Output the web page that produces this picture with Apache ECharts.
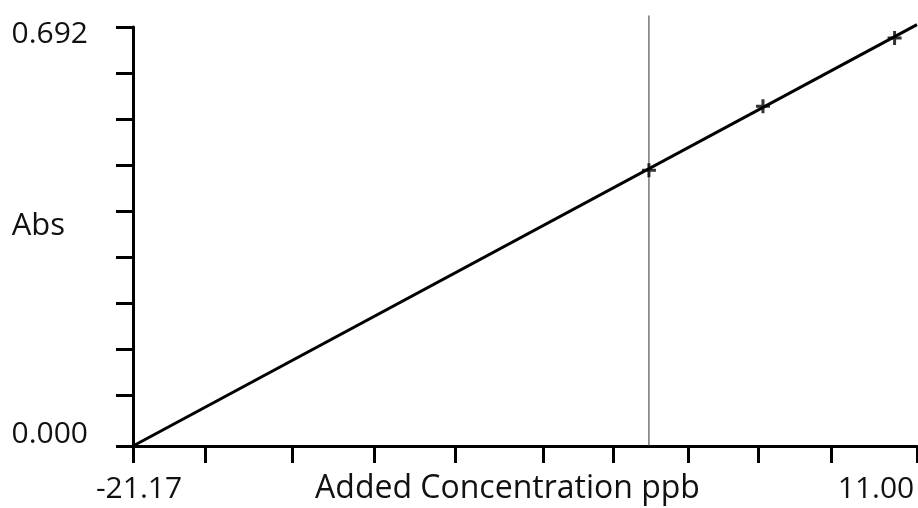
<!DOCTYPE html>
<html>
<head>
<meta charset="utf-8">
<title>Abs vs Added Concentration</title>
<script src="https://cdn.jsdelivr.net/npm/echarts@6/dist/echarts.min.js"></script>
<style>
  html, body { margin: 0; padding: 0; background: #fff; }
  #main { width: 918px; height: 508px; }
</style>
</head>
<body>
<div id="main"></div>
<script>
// standard additions
let pointsX = [0, 4.68, 10.08]
let pointsY = [0.4555, 0.561, 0.674]
// fitted line, from x intercept to right edge
let fitX = [-21.17, 11.0]
let fitY = [0, 0.696]
// vertical marker at zero addition
let zeroX = [0, 0]
let zeroY = [0, 0.711]
// axis ticks (not evenly spaced in the picture)
let xTicks = [-21.17, -18.22, -14.63, -11.27, -7.94, -4.35, -1.48, 1.62, 4.48, 7.49, 11.0]
let xLabels = [-21.17, 11.0]
let yTicks = [0, 0.083, 0.1596, 0.2355, 0.3125, 0.3879, 0.4639, 0.5393, 0.6152, 0.692]
let yLabels = [0, 0.692]

const FONT = '"Open Sans", "Noto Sans", sans-serif'
const plus = 'path://M5.5,0H8.5V5.5H14V8.5H8.5V14H5.5V8.5H0V5.5H5.5Z'

function pairs(xs, ys) {
    return xs.map(function (x, i) { return [x, ys[i]] })
}

var chartDom = document.getElementById('main')
var myChart = echarts.init(chartDom)
var option = {
    animation: false,
    backgroundColor: '#fff',
    grid: {
        left: 133,
        right: 1,
        top: 27,
        bottom: 62,
        containLabel: false,
        outerBoundsMode: 'none'
    },
    xAxis: {
        type: 'value',
        min: -21.17,
        max: 11.0,
        name: 'Added Concentration ppb',
        nameLocation: 'middle',
        nameGap: 27,
        nameMoveOverlap: false,
        nameTextStyle: {
            fontFamily: FONT,
            fontSize: 32,
            color: '#111',
            padding: [0, 35, 0, 0]
        },
        axisLine: { show: true, onZero: false, lineStyle: { color: '#000', width: 3 } },
        axisTick: {
            show: true,
            length: 17,
            customValues: xTicks,
            lineStyle: { color: '#000', width: 3 }
        },
        axisLabel: {
            show: true,
            margin: 28,
            customValues: xLabels,
            fontFamily: FONT,
            fontSize: 30,
            color: '#111',
            formatter: function (v) {
                if (v < 0) return '{l|' + v.toFixed(2) + '}'
                return '{r|' + v.toFixed(2) + '}'
            },
            rich: {
                l: { fontFamily: FONT, fontSize: 30, color: '#111', padding: [0, 0, 0, 12] },
                r: { fontFamily: FONT, fontSize: 30, color: '#111', padding: [0, 82, 0, 0] }
            }
        },
        splitLine: { show: false }
    },
    yAxis: {
        type: 'value',
        min: 0,
        max: 0.692,
        name: '{a|Abs}',
        nameLocation: 'middle',
        nameRotate: 0,
        nameGap: 68,
        nameMoveOverlap: false,
        nameTextStyle: {
            fontFamily: FONT,
            fontSize: 31,
            color: '#111',
            rich: {
                a: { fontFamily: FONT, fontSize: 31, color: '#111', padding: [0, 0, 20, 0] }
            }
        },
        axisLine: { show: true, onZero: false, lineStyle: { color: '#000', width: 3 } },
        axisTick: {
            show: true,
            length: 17,
            customValues: yTicks,
            lineStyle: { color: '#000', width: 3 }
        },
        axisLabel: {
            show: true,
            margin: 45,
            customValues: yLabels,
            fontFamily: FONT,
            fontSize: 30,
            color: '#111',
            formatter: function (v) {
                if (v > 0) return '{t|' + v.toFixed(3) + '}'
                return '{b|' + v.toFixed(3) + '}'
            },
            rich: {
                t: { fontFamily: FONT, fontSize: 30, color: '#111', padding: [15, 0, 0, 0] },
                b: { fontFamily: FONT, fontSize: 30, color: '#111', padding: [0, 0, 23, 0] }
            }
        },
        splitLine: { show: false }
    },
    series: [
        {
            type: 'line',
            data: pairs(zeroX, zeroY),
            showSymbol: false,
            clip: false,
            z: 1,
            lineStyle: { color: '#333', width: 1 }
        },
        {
            type: 'line',
            data: pairs(fitX, fitY),
            showSymbol: false,
            clip: false,
            z: 2,
            lineStyle: { color: '#000', width: 3 }
        },
        {
            type: 'scatter',
            data: pairs(pointsX, pointsY),
            symbol: plus,
            symbolSize: 14,
            z: 3,
            itemStyle: { color: '#000' }
        }
    ]
}
option && myChart.setOption(option)
</script>
</body>
</html>
